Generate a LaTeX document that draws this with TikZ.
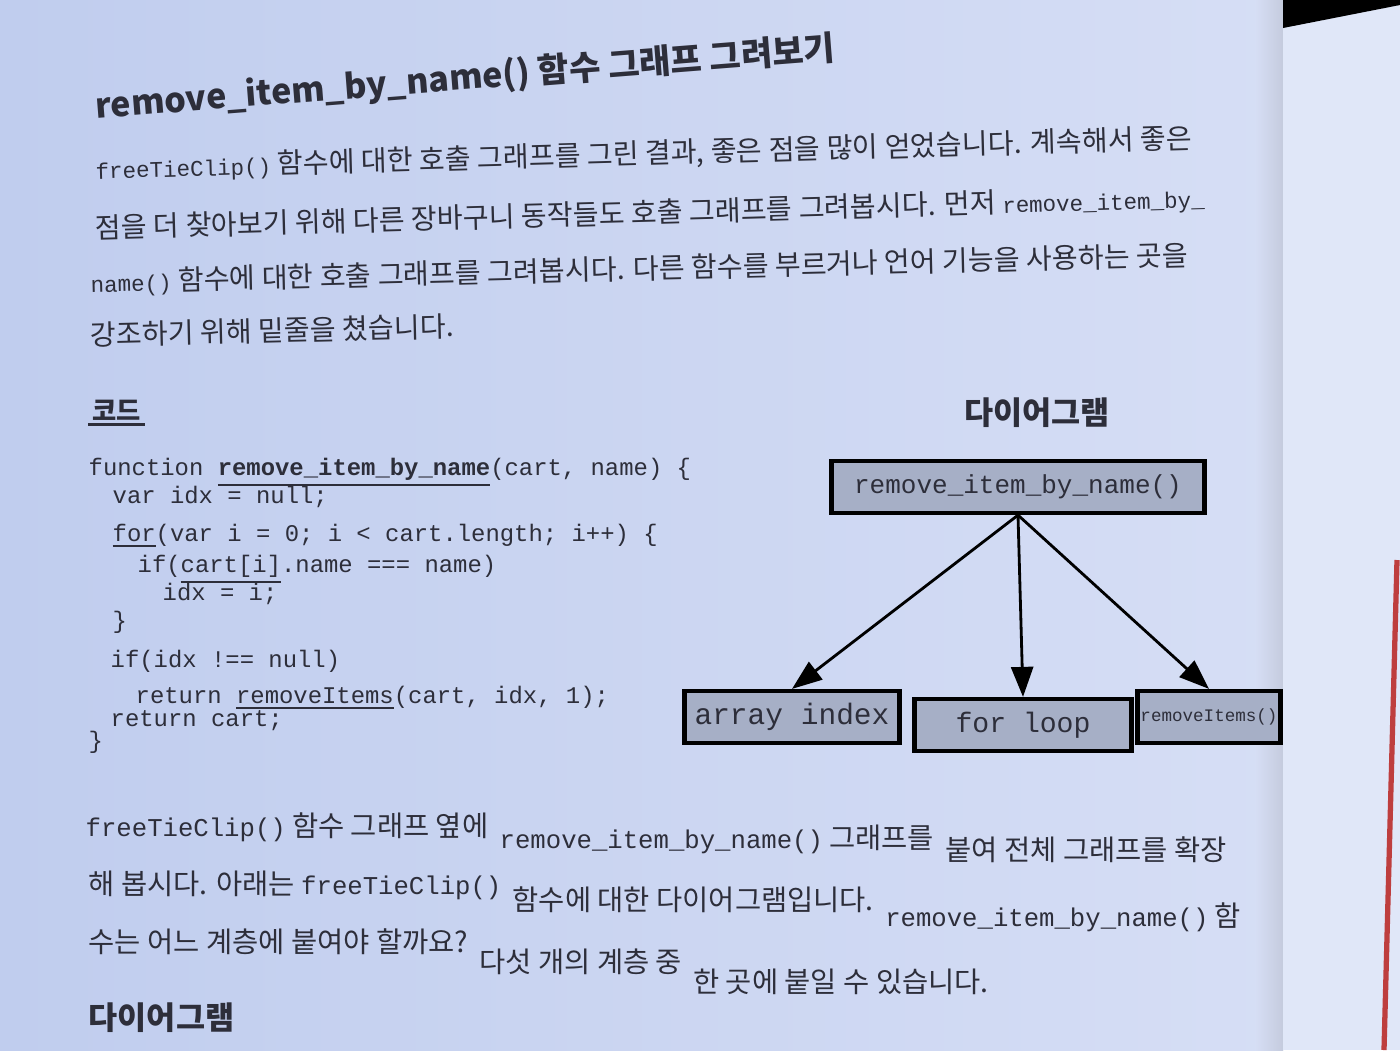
\documentclass[tikz,border=0pt]{standalone}
\usepackage{fontspec}
\setmainfont{Noto Sans CJK KR}
\setmonofont{Liberation Mono}
\usetikzlibrary{arrows.meta}
\definecolor{pageL}{RGB}{192,205,238}
\definecolor{pageR}{RGB}{214,222,245}
\definecolor{nextpage}{RGB}{224,231,248}
\definecolor{boxfill}{RGB}{166,175,198}
\definecolor{ink}{RGB}{45,46,58}
\definecolor{bookred}{RGB}{190,62,62}
\newcommand{\ttx}[1]{{\ttfamily\fontsize{6.4}{7}\selectfont #1}}
\newcommand{\ttb}[1]{{\ttfamily\fontsize{7.3}{8}\selectfont #1}}
\begin{document}
\begin{tikzpicture}[
			level distance=2.3cm,
			level 1/.style={sibling distance=2.1cm},
			parent anchor=south,
			child anchor=north,
			edge from parent/.style={draw,line width=0.8pt,-{Triangle[length=3mm,width=2.2mm]}},
			callbox/.style={draw,line width=1.2pt,fill=boxfill,text=ink,inner xsep=0.1cm,minimum height=0.52cm,font=\ttfamily\fontsize{7.4}{8}\selectfont},
			bodyline/.style={anchor=west,text=ink,font=\fontsize{8}{9}\selectfont,inner sep=0pt},
			lowline/.style={anchor=base west,text=ink,font=\fontsize{8.1}{9}\selectfont,inner sep=0pt},
			codeline/.style={anchor=base west,text=ink,inner sep=0pt,font=\ttfamily\fontsize{6.8}{8}\selectfont}
		]
		\useasboundingbox (0,0) rectangle (14,-10.5);
		\shade[left color=pageL,right color=pageR] (0,0) rectangle (12.83,-10.5);
		\shade[left color=pageR,right color=pageR!80!gray] (12.55,0) rectangle (12.83,-10.5);
		\fill[nextpage] (12.83,0) rectangle (14,-10.5);
		\fill[black] (12.83,0) -- (14,0) -- (14,-0.05) -- (12.83,-0.28) -- cycle;
		\draw[bookred,line width=1.5pt] (13.97,-5.6) -- (13.84,-10.5);

		\node[anchor=west,text=ink,inner sep=0pt,rotate=4.5,font=\fontsize{9.7}{11}\selectfont\bfseries] (title) at (0.95,-1.08) {remove\_item\_by\_name() 함수 그래프 그려보기};

		\node[bodyline,rotate=1.6] (p1) at (0.95,-1.70) {\ttx{freeTieClip()} 함수에 대한 호출 그래프를 그린 결과, 좋은 점을 많이 얻었습니다. 계속해서 좋은};
		\node[bodyline,rotate=1.6] (p2) at (0.95,-2.29) {점을 더 찾아보기 위해 다른 장바구니 동작들도 호출 그래프를 그려봅시다. 먼저 \ttx{remove\_item\_by\_}};
		\node[bodyline,rotate=1.4] (p3) at (0.90,-2.83) {\ttx{name()} 함수에 대한 호출 그래프를 그려봅시다. 다른 함수를 부르거나 언어 기능을 사용하는 곳을};
		\node[bodyline,rotate=1.4] (p4) at (0.90,-3.35) {강조하기 위해 밑줄을 쳤습니다.};

		\node[anchor=west,text=ink,inner sep=1pt,font=\fontsize{7.5}{9}\selectfont\bfseries] (code) at (0.88,-4.10) {코드};
		\draw[ink,line width=0.9pt] (code.south west) -- (code.south east);
		\node[anchor=center,text=ink,font=\fontsize{9}{11}\selectfont\bfseries] (dia) at (10.37,-4.13) {다이어그램};

		\node[codeline] (c1) at (0.88,-4.75) {function \underline{\textbf{remove\_item\_by\_name}}(cart, name) \{};
		\node[codeline] (c2) at (1.12,-5.03) {var idx = null;};
		\node[codeline] (c3) at (1.12,-5.41) {\underline{for}(var i = 0; i < cart.length; i++) \{};
		\node[codeline] (c4) at (1.37,-5.72) {if(\underline{cart[i]}.name === name)};
		\node[codeline] (c5) at (1.62,-6.00) {idx = i;};
		\node[codeline] (c6) at (1.12,-6.28) {\}};
		\node[codeline] (c7) at (1.10,-6.67) {if(idx !== null)};
		\node[codeline] (c8) at (1.35,-7.03) {return \underline{removeItems}(cart, idx, 1);};
		\node[codeline] (c9) at (1.10,-7.26) {return cart;};
		\node[codeline] (c10) at (0.88,-7.48) {\}};

		\node[callbox,minimum width=3.73cm] (rin) at (10.18,-4.87) {remove\_item\_by\_name()}
		child {node[callbox,minimum width=2.15cm,xshift=-0.16cm,font=\ttfamily\fontsize{8.4}{9}\selectfont] (arr) {array index}}
		child {node[callbox,minimum width=2.17cm,xshift=0.05cm,yshift=-0.08cm,font=\ttfamily\fontsize{8}{9}\selectfont] (loop) {for loop}}
		child {node[callbox,minimum width=1.32cm,xshift=-0.19cm,inner xsep=0.03cm,font=\ttfamily\fontsize{5}{6}\selectfont] (rmi) {removeItems()}};

		\node[lowline] (q1a) at (0.85,-8.36) {\ttb{freeTieClip()} 함수 그래프 옆에};
		\node[lowline,yshift=-0.12cm] (q1b) at (q1a.base east) {\hspace{0.35em}\ttb{remove\_item\_by\_name()} 그래프를};
		\node[lowline,yshift=-0.12cm] (q1c) at (q1b.base east) {\hspace{0.35em}붙여 전체 그래프를 확장};
		\node[lowline] (q2a) at (0.88,-8.94) {해 봅시다. 아래는 \ttb{freeTieClip()}};
		\node[lowline,yshift=-0.16cm] (q2b) at (q2a.base east) {\hspace{0.35em}함수에 대한 다이어그램입니다.};
		\node[lowline,yshift=-0.16cm] (q2c) at (q2b.base east) {\hspace{0.35em}\ttb{remove\_item\_by\_name()} 함};
		\node[lowline] (q3a) at (0.88,-9.52) {수는 어느 계층에 붙여야 할까요?};
		\node[lowline,yshift=-0.2cm] (q3b) at (q3a.base east) {\hspace{0.35em}다섯 개의 계층 중};
		\node[lowline,yshift=-0.2cm] (q3c) at (q3b.base east) {\hspace{0.35em}한 곳에 붙일 수 있습니다.};
		\node[anchor=west,text=ink,inner sep=0pt,font=\fontsize{9}{11}\selectfont\bfseries] (dia2) at (0.88,-10.18) {다이어그램};
	\end{tikzpicture}
\end{document}
